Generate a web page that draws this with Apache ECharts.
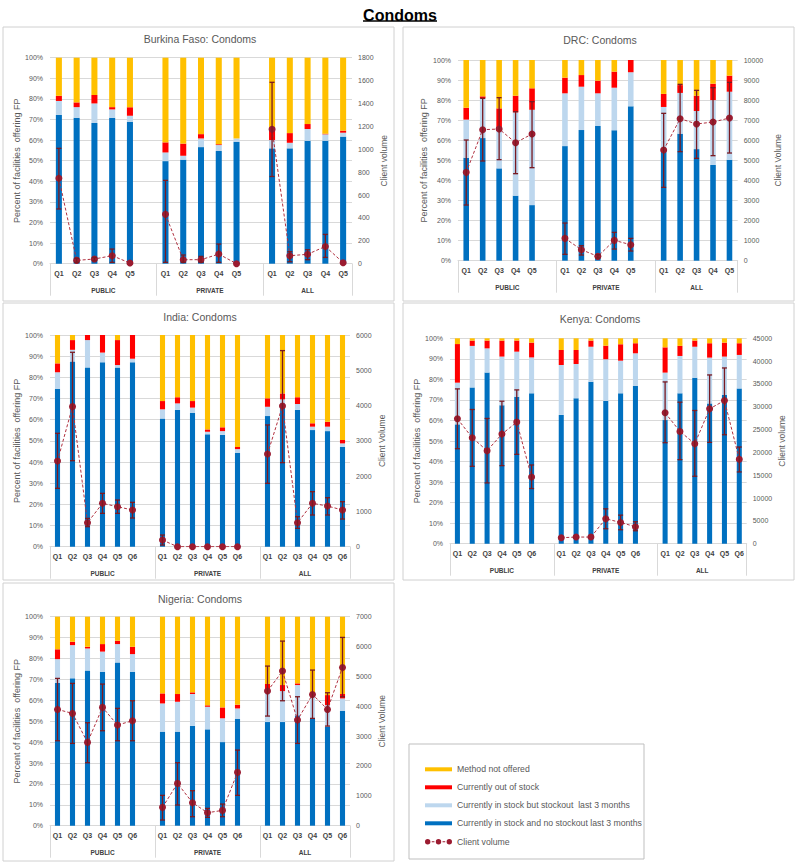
<!DOCTYPE html>
<html><head><meta charset="utf-8">
<script src="https://cdn.jsdelivr.net/npm/echarts@6/dist/echarts.min.js"></script>
<style>html,body{margin:0;padding:0;background:#fff}#c{width:800px;height:864px}</style>
</head><body><div id="c"></div>
<script>
// ---------- DATA ----------
const groups = ['PUBLIC', 'PRIVATE', 'ALL'];
const q5 = ['Q1', 'Q2', 'Q3', 'Q4', 'Q5'];
const q6 = ['Q1', 'Q2', 'Q3', 'Q4', 'Q5', 'Q6'];
const legendNames = ['Method not offered', 'Currently out of stock', 'Currently in stock but stockout  last 3 months', 'Currently in stock and no stockout last 3 months', 'Client volume'];

// Burkina Faso (public, private, all)
const bfBlue  = [72.2,70.9,68.3,70.9,68.9, 49.8,50.5,56.6,54.7,59.2, 56.0,56.0,59.7,59.7,61.7];
const bfLight = [6.8,5.1,9.5,4.0,2.9, 4.2,1.9,4.2,2.9,1.6, 4.0,2.7,5.7,3.1,1.9];
const bfOut   = [2.5,2.3,4.1,1.1,4.2, 4.9,5.9,2.1,0.4,0, 6.2,4.7,2.4,0.3,1.0];
const bfNot   = [18.5,21.7,18.1,24.0,24.0, 41.1,41.7,37.1,42.0,39.2, 33.8,36.6,32.2,36.9,35.4];
const bfVol   = [746,29,41,70,6, 431,35,35,84,0, 1174,70,82,151,9];
const bfHi    = [1008,47,55,128,null, 728,76,64,172,null, 1585,105,122,256,null];
const bfLo    = [478,12,25,12,null, 12,12,12,12,null, 762,17,35,55,null];

// DRC
const drcBlue  = [51.3,61.1,46.0,32.4,27.7, 57.1,65.1,67.1,65.0,76.9, 54.8,63.3,55.6,47.7,50.3];
const drcLight = [19.0,19.8,19.6,41.5,47.5, 26.3,21.6,16.3,21.2,17.0, 21.8,20.3,19.0,32.3,33.9];
const drcOut   = [5.9,1.0,10.3,8.3,10.7, 7.8,5.8,6.3,8.0,6.1, 6.5,3.9,7.6,8.2,8.0];
const drcNot   = [23.8,18.1,24.1,17.8,14.1, 8.8,7.5,10.3,5.8,0, 16.9,12.5,17.8,11.8,7.8];
const drcVol   = [4402,6528,6561,5880,6312, 1113,548,216,1013,797, 5515,7076,6811,6910,7110];
const drcHi    = [6013,8090,8123,7425,7924, 1877,748,300,1412,1113, 7342,8787,8488,8621,8887];
const drcLo    = [2774,4967,5033,4336,4635, 316,282,130,581,482, 3654,5432,5100,5233,5365];

// India
const inBlue  = [74.5,87.5,84.7,87.1,84.6,87.1, 60.5,64.6,63.3,53.1,52.8,44.4, 61.7,67.7,64.6,55.1,54.6,47.2];
const inLight = [7.9,5.5,12.9,4.6,1.2,1.7, 4.4,3.1,2.4,1.2,1.8,1.7, 4.4,1.9,2.8,1.6,2.1,1.6];
const inOut   = [4.2,4.6,2.4,8.3,11.8,11.2, 3.9,2.9,3.1,1.1,1.8,1.0, 4.0,2.8,3.2,1.6,2.3,1.6];
const inNot   = [13.4,2.4,0,0,2.4,0, 31.2,29.4,31.2,44.6,43.6,52.9, 29.9,27.6,29.4,41.7,41.0,49.6];
const inVol   = [2429,3970,680,1229,1134,1040, 189,0,0,0,0,0, 2628,3989,680,1229,1153,1040];
const inHi    = [3214,5510,803,1512,1323,1257, 331,null,null,null,null,null, 3450,5558,850,1560,1389,1276];
const inLo    = [1654,2438,567,945,945,813, 47,null,null,null,null,null, 1796,2382,520,898,898,784];

// Kenya
const keBlue  = [58.1,76.1,83.3,67.4,71.6,73.2, 62.7,70.8,78.9,69.5,73.2,76.8, 60.2,73.2,80.8,68.3,72.4,75.6];
const keLight = [20.3,20.2,11.8,23.7,21.9,17.5, 24.3,16.7,17.0,20.3,15.9,15.9, 23.1,18.2,15.1,22.3,18.7,16.3];
const keOut   = [18.8,2.6,3.8,7.8,5.4,7.2, 7.3,6.8,3.0,6.6,8.0,4.9, 12.3,4.9,3.0,7.0,6.8,5.7];
const keNot   = [2.8,1.1,1.1,1.1,1.1,2.1, 5.7,5.7,1.1,3.6,2.9,2.4, 4.4,3.7,1.1,2.4,2.1,2.4];
const keVol   = [27365,23217,20378,24017,26638,14629, 1310,1456,1456,5459,4658,3712, 28675,24600,21907,29549,31368,18486];
const keHi    = [33915,29403,27438,31223,33697,17249, null,null,null,7642,6259,4803, 35444,31004,29185,36972,38501,21179];
const keLo    = [20815,16958,13319,17103,19578,12082, null,null,null,3275,3057,2838, 22125,18413,14774,22198,23872,15721];

// Nigeria
const ngBlue  = [68.4,70.5,74.2,73.7,78.1,73.7, 45.0,45.0,47.8,46.1,40.0,51.2, 49.6,49.6,52.8,51.2,47.4,55.0];
const ngLight = [11.3,15.9,10.6,9.6,8.8,8.4, 13.5,14.3,15.2,10.8,11.4,4.9, 15.6,14.8,14.5,11.3,10.3,5.9];
const ngOut   = [4.7,1.6,0.8,3.6,1.6,3.5, 4.8,3.7,0.8,0.7,5.2,1.8, 2.6,2.9,0.8,0.8,4.8,2.1];
const ngNot   = [15.6,12.0,14.4,13.1,11.5,14.4, 36.7,37.0,36.2,42.4,43.4,42.1, 32.2,32.7,31.9,36.7,37.5,37.0];
const ngVol   = [3895,3761,2790,3962,3371,3516, 614,1417,770,435,513,1786, 4509,5179,3538,4397,3895,5301];
const ngHi    = [4933,4766,3449,4743,3929,4185, 1016,2109,1172,580,725,2533, 5346,6183,4319,5212,4453,6306];
const ngLo    = [2846,2757,2109,3181,2846,2846, 190,692,301,279,301,1016, 3672,4185,2757,3594,3337,4319];

// ---------- LAYOUT / STYLE ----------
const FONT = '"Liberation Sans", Arial, sans-serif';
const C_NOT = '#FFC000', C_OUT = '#FF0000', C_LIGHT = '#BDD7EE', C_BLUE = '#0070C0';
const C_MARK = '#9B1B30', C_LINE = '#B0303F', C_ERR = '#7A1A22';
const GRIDC = '#d9d9d9';

const panels = [
  {title:'Burkina Faso: Condoms', q:q5, blue:bfBlue, light:bfLight, out:bfOut, not:bfNot, vol:bfVol, hi:bfHi, lo:bfLo,
   grid:{left:50, top:57.7, width:302, height:206}, tx:200, ty:39, lGap:25, rGap:27, rMax:1800, rInt:200, rName:'Client volume',
   box:[3,27,391,274]},
  {title:'DRC: Condoms', q:q5, blue:drcBlue, light:drcLight, out:drcOut, not:drcNot, vol:drcVol, hi:drcHi, lo:drcLo,
   grid:{left:458, top:60, width:279.7, height:200.7}, tx:600, ty:40, lGap:30, rGap:36, rMax:10000, rInt:1000, rName:'Client Volume',
   box:[403,27,391,274]},
  {title:'India: Condoms', q:q6, blue:inBlue, light:inLight, out:inOut, not:inNot, vol:inVol, hi:inHi, lo:inLo,
   grid:{left:50, top:335, width:300, height:211.7}, tx:200, ty:317, lGap:27, rGap:27, rMax:6000, rInt:1000, rName:'Client Volume',
   box:[3,303,391,277]},
  {title:'Kenya: Condoms', q:q6, blue:keBlue, light:keLight, out:keOut, not:keNot, vol:keVol, hi:keHi, lo:keLo,
   grid:{left:450, top:338.3, width:296.7, height:205.4}, tx:600, ty:319, lGap:26, rGap:31, rMax:45000, rInt:5000, rName:'Client volume',
   box:[403,303,391,277]},
  {title:'Nigeria: Condoms', q:q6, blue:ngBlue, light:ngLight, out:ngOut, not:ngNot, vol:ngVol, hi:ngHi, lo:ngLo,
   grid:{left:50, top:616.7, width:300, height:209}, tx:200, ty:599, lGap:26, rGap:27, rMax:7000, rInt:1000, rName:'Client Volume',
   box:[3,583,391,278]}
];

function renderErr(params, api) {
  const x = api.value(0), lo = api.value(1), hi = api.value(2);
  const p1 = api.coord([x, hi]), p2 = api.coord([x, lo]);
  const w = 2.5;
  const st = {stroke: C_ERR, lineWidth: 1.3};
  return {type: 'group', children: [
    {type: 'line', shape: {x1: p1[0], y1: p1[1], x2: p2[0], y2: p2[1]}, style: st},
    {type: 'line', shape: {x1: p1[0] - w, y1: p1[1], x2: p1[0] + w, y2: p1[1]}, style: st},
    {type: 'line', shape: {x1: p2[0] - w, y1: p2[1], x2: p2[0] + w, y2: p2[1]}, style: st}
  ]};
}

const option = {
  animation: false,
  textStyle: {fontFamily: FONT},
  title: {text: 'Condoms', left: 'center', top: 2, textStyle: {fontSize: 16, fontWeight: 'bold', color: '#000', fontFamily: FONT}},
  grid: [], xAxis: [], yAxis: [], series: [],
  legend: [
    {data: legendNames.slice(0, 4), orient: 'vertical', left: 420, top: 759.8, itemWidth: 27, itemHeight: 4, itemGap: 9,
     icon: 'rect', selectedMode: false, textStyle: {fontSize: 8.7, color: '#595959', lineHeight: 9, fontFamily: FONT}},
    {data: [{name: legendNames[4], icon: 'path://M0,3a3,3 0 1,0 6,0a3,3 0 1,0 -6,0z M12,3a3,3 0 1,0 6,0a3,3 0 1,0 -6,0z M24,3a3,3 0 1,0 6,0a3,3 0 1,0 -6,0z M7.5,2.5h3v1h-3z M19.5,2.5h3v1h-3z'}],
     orient: 'vertical', left: 420, top: 832.2, itemWidth: 27, itemHeight: 6, selectedMode: false,
     textStyle: {fontSize: 8.7, color: '#595959', lineHeight: 9, fontFamily: FONT}}
  ],
  graphic: [
    {type: 'line', shape: {x1: 363, y1: 21, x2: 437, y2: 21}, style: {stroke: '#000', lineWidth: 1.3}},
    {type: 'rect', shape: {x: 409, y: 744, width: 235, height: 115}, style: {fill: 'none', stroke: '#bfbfbf', lineWidth: 1}}
  ]
};

panels.forEach((p, i) => {
  const n = p.q.length;
  const cats = [];
  groups.forEach((g, gi) => { cats.push(...p.q); if (gi < groups.length - 1) cats.push(''); });
  const slots = cats.length;
  const gap = arr => {
    const out = [];
    groups.forEach((g, gi) => { out.push(...arr.slice(gi * n, (gi + 1) * n)); if (gi < groups.length - 1) out.push(null); });
    return out;
  };
  option.grid.push(Object.assign({}, p.grid));
  const xi = option.xAxis.length;
  option.xAxis.push({
    type: 'category', gridIndex: i, data: cats,
    axisTick: {show: false}, axisLine: {lineStyle: {color: GRIDC}},
    axisLabel: {interval: 0, fontSize: 7, color: '#404040', fontWeight: 'bold', margin: 6, fontFamily: FONT}
  });
  const edges = [0, n + 1, 2 * (n + 1), slots];
  const centers = [(n + 1) / 2, (n + 1) * 1.5, (2 * (n + 1) + slots) / 2];
  option.xAxis.push({
    type: 'value', gridIndex: i, min: 0, max: slots, position: 'bottom',
    axisLine: {show: false}, splitLine: {show: false},
    axisTick: {show: true, customValues: edges, length: 32, lineStyle: {color: GRIDC}},
    axisLabel: {customValues: centers, fontSize: 6.5, fontWeight: 'bold', color: '#404040', margin: 23, fontFamily: FONT,
      formatter: v => { let k = 0, best = 1e9; centers.forEach((c, ci) => { if (Math.abs(c - v) < best) { best = Math.abs(c - v); k = ci; } }); return groups[k]; }}
  });
  const yl = option.yAxis.length;
  option.yAxis.push({
    type: 'value', gridIndex: i, min: 0, max: 100, interval: 10,
    name: 'Percent of facilities  offering FP', nameLocation: 'middle', nameGap: p.lGap,
    nameTextStyle: {fontSize: 9, color: '#595959', fontFamily: FONT},
    axisLabel: {formatter: '{value}%', fontSize: 7, color: '#595959', margin: 7, fontFamily: FONT},
    splitLine: {lineStyle: {color: GRIDC}}, axisLine: {show: false}, axisTick: {show: false}
  });
  option.yAxis.push({
    type: 'value', gridIndex: i, position: 'right', min: 0, max: p.rMax, interval: p.rInt,
    name: p.rName, nameLocation: 'middle', nameGap: p.rGap,
    nameTextStyle: {fontSize: 8.5, color: '#595959', fontFamily: FONT},
    axisLabel: {formatter: v => String(v), fontSize: 7, color: '#595959', margin: 6, fontFamily: FONT},
    splitLine: {show: false}, axisLine: {show: false}, axisTick: {show: false}
  });
  const stack = 'st' + i;
  const bar = (name, data, color) => ({
    name, type: 'bar', stack, xAxisIndex: xi, yAxisIndex: yl, barWidth: '34%',
    data: gap(data), itemStyle: {color}, z: 2
  });
  option.series.push(bar(legendNames[3], p.blue, C_BLUE));
  option.series.push(bar(legendNames[2], p.light, C_LIGHT));
  option.series.push(bar(legendNames[1], p.out, C_OUT));
  option.series.push(bar(legendNames[0], p.not, C_NOT));
  option.series.push({
    name: legendNames[4], type: 'line', xAxisIndex: xi, yAxisIndex: yl + 1, data: gap(p.vol),
    connectNulls: false, symbol: 'circle', symbolSize: 7,
    itemStyle: {color: C_MARK}, lineStyle: {color: C_LINE, width: 1, type: [3, 2]}, z: 5
  });
  const gl = gap(p.lo), gh = gap(p.hi);
  const errData = [];
  gl.forEach((v, k) => { if (v != null && gh[k] != null) errData.push([k, v, gh[k]]); });
  option.series.push({
    type: 'custom', xAxisIndex: xi, yAxisIndex: yl + 1, data: errData,
    encode: {x: 0, y: [1, 2]}, renderItem: renderErr, z: 6, silent: true
  });
  option.graphic.push({type: 'rect', shape: {x: p.box[0], y: p.box[1], width: p.box[2], height: p.box[3]},
    style: {fill: 'none', stroke: '#d0d0d0', lineWidth: 1}});
  option.graphic.push({type: 'text', x: p.tx, y: p.ty,
    style: {text: p.title, fontSize: 10.5, fill: '#595959', fontFamily: FONT, textAlign: 'center', textVerticalAlign: 'middle', align: 'center', verticalAlign: 'middle'}});
});

const chart = echarts.init(document.getElementById('c'), null, {renderer: 'svg'});
chart.setOption(option);
</script>
</body></html>
